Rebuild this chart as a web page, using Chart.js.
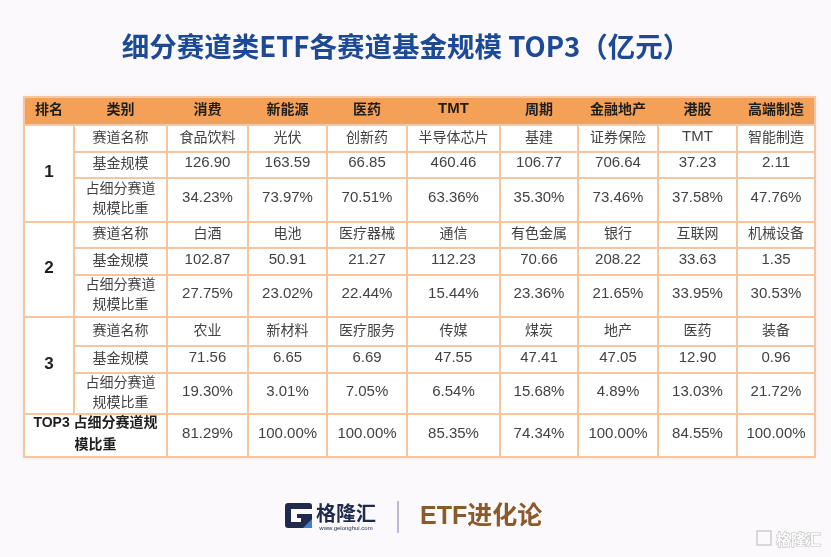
<!DOCTYPE html>
<html><head><meta charset="utf-8">
<script src="https://cdn.jsdelivr.net/npm/chart.js@4/dist/chart.umd.min.js"></script>
<style>html,body{margin:0;padding:0;background:#fbf9fb;}canvas{display:block;}</style>
</head><body>
<canvas id="c" width="831" height="557"></canvas>
<script>
// ---- data ----
const titleText = '细分赛道类ETF各赛道基金规模 TOP3（亿元）';
const categories = ['消费','新能源','医药','TMT','周期','金融地产','港股','高端制造'];
const ranks = ['1','2','3'];
const rowLabels = ['赛道名称','基金规模','占细分赛道\n规模比重'];
const trackNames1 = ['食品饮料','光伏','创新药','半导体芯片','基建','证券保险','TMT','智能制造'];
const fundScale1 = [126.90,163.59,66.85,460.46,106.77,706.64,37.23,2.11];
const share1 = [34.23,73.97,70.51,63.36,35.30,73.46,37.58,47.76];
const trackNames2 = ['白酒','电池','医疗器械','通信','有色金属','银行','互联网','机械设备'];
const fundScale2 = [102.87,50.91,21.27,112.23,70.66,208.22,33.63,1.35];
const share2 = [27.75,23.02,22.44,15.44,23.36,21.65,33.95,30.53];
const trackNames3 = ['农业','新材料','医疗服务','传媒','煤炭','地产','医药','装备'];
const fundScale3 = [71.56,6.65,6.69,47.55,47.41,47.05,12.90,0.96];
const share3 = [19.30,3.01,7.05,6.54,15.68,4.89,13.03,21.72];
const top3Share = [81.29,100.00,100.00,85.35,74.34,100.00,84.55,100.00];

// ---- layout (table units) ----
const colEdges = [0,50,143,224,303,383,476,554,634,713,791];
const rowEdges = [0,28,55,81,125,151,178,220,249,276,317,360];

const groups = [
  {rank: ranks[0], names: trackNames1, scale: fundScale1, share: share1},
  {rank: ranks[1], names: trackNames2, scale: fundScale2, share: share2},
  {rank: ranks[2], names: trackNames3, scale: fundScale3, share: share3}
];

const CJK = '"Noto Sans CJK SC", sans-serif';
const LAT = '"Liberation Sans", "Noto Sans CJK SC", sans-serif';
const isCJK = s => /[\u4e00-\u9fff]/.test(s) && !/[0-9A-Za-z]/.test(s);

const tablePlugin = {
  id: 'tablePlugin',
  beforeDraw(chart) {
    const ctx = chart.ctx;
    ctx.save();
    ctx.fillStyle = '#fbf9fb';
    ctx.fillRect(0, 0, chart.width, chart.height);
    ctx.restore();
  },
  afterDraw(chart) {
    const ctx = chart.ctx;
    const xs = chart.scales.x, ys = chart.scales.y;
    const X = v => xs.getPixelForValue(v);
    const Y = v => ys.getPixelForValue(v);
    const L = X(colEdges[0]), R = X(colEdges[colEdges.length-1]);
    const T = Y(rowEdges[0]), B = Y(rowEdges[rowEdges.length-1]);
    ctx.save();
    // title
    ctx.font = 'bold 27.5px "Noto Sans CJK SC", "Liberation Sans", sans-serif';
    ctx.fillStyle = '#1c4a96';
    ctx.textAlign = 'center'; ctx.textBaseline = 'middle';
    ctx.fillText(titleText, 406, 47);

    // shadow + white body
    ctx.shadowColor = 'rgba(0,0,0,0.08)';
    ctx.shadowBlur = 6;
    ctx.fillStyle = '#ffffff';
    ctx.fillRect(L, T, R-L, B-T);
    ctx.shadowBlur = 0; ctx.shadowColor = 'transparent';
    // header fill
    ctx.fillStyle = '#f5a057';
    ctx.fillRect(L, T, R-L, Y(rowEdges[1]) - T);

    // grid lines
    ctx.strokeStyle = '#f7c69e';
    ctx.lineWidth = 2;
    const line = (x1,y1,x2,y2) => { ctx.beginPath(); ctx.moveTo(x1,y1); ctx.lineTo(x2,y2); ctx.stroke(); };
    ctx.strokeRect(L, T, R-L, B-T);
    for (let i = 1; i < rowEdges.length-1; i++) {
      const y = Y(rowEdges[i]);
      const groupBoundary = (i === 1 || i === 4 || i === 7 || i === 10);
      line(groupBoundary ? L : X(colEdges[1]), y, R, y);
    }
    const hy = Y(rowEdges[1]);
    for (let j = 1; j < colEdges.length-1; j++) {
      const x = X(colEdges[j]);
      line(x, hy, x, j === 1 ? Y(rowEdges[10]) : B);
    }

    const text = (s, cx, cy, font, color) => {
      ctx.font = font; ctx.fillStyle = color;
      ctx.textAlign = 'center'; ctx.textBaseline = 'middle';
      ctx.fillText(s, cx, cy);
    };
    const midX = j => (X(colEdges[j]) + X(colEdges[j+1])) / 2;
    const midY = (a, b) => (Y(rowEdges[a]) + Y(rowEdges[b])) / 2 - 2;

    // header
    const hdr = ['排名','类别'].concat(categories);
    hdr.forEach((h, j) => {
      const f = isCJK(h) ? 'bold 14px ' + CJK : 'bold 15px ' + LAT;
      text(h, midX(j), midY(0,1), f, '#1e1e1e');
    });

    const bodyColor = '#424242';
    const numFont = '15px ' + LAT;
    const cjkFont = '14px ' + CJK;
    const multi = (s, cx, cy, font, color, lh) => {
      const parts = s.split('\n');
      parts.forEach((p, k) => text(p, cx, cy + (k - (parts.length-1)/2) * lh, font, color));
    };

    groups.forEach((g, gi) => {
      const r0 = 1 + gi*3;
      text(g.rank, midX(0), midY(r0, r0+3) + 1, 'bold 17px ' + LAT, '#1e1e1e');
      rowLabels.forEach((lab, k) => multi(lab, midX(1), midY(r0+k, r0+k+1), cjkFont, bodyColor, 20));
      categories.forEach((c, j) => {
        const nm = g.names[j];
        text(nm, midX(j+2), midY(r0, r0+1), isCJK(nm) ? cjkFont : numFont, bodyColor);
        text(g.scale[j].toFixed(2), midX(j+2), midY(r0+1, r0+2), numFont, bodyColor);
        text(g.share[j].toFixed(2) + '%', midX(j+2), midY(r0+2, r0+3), numFont, bodyColor);
      });
    });
    const tx = (X(colEdges[0]) + X(colEdges[2])) / 2;
    const ty = midY(10, 11);
    text('TOP3 占细分赛道规', tx, ty - 10, 'bold 14px ' + LAT, '#1e1e1e');
    text('模比重', tx, ty + 10, 'bold 14px ' + CJK, '#1e1e1e');
    categories.forEach((c, j) => {
      text(top3Share[j].toFixed(2) + '%', midX(j+2), ty, numFont, bodyColor);
    });

    // footer brand
    ctx.fillStyle = '#1f2a4d';
    ctx.beginPath();
    ctx.roundRect(285, 503, 27, 25, 3);
    ctx.fill();
    ctx.fillStyle = '#fbf9fb';
    ctx.fillRect(291, 509, 21, 5);
    ctx.fillRect(291, 509, 6, 13);
    ctx.fillRect(291, 518, 10, 4);
    ctx.fillStyle = '#3f7fd0';
    ctx.beginPath();
    ctx.moveTo(303, 528); ctx.lineTo(312, 519); ctx.lineTo(312, 528); ctx.closePath();
    ctx.fill();
    text('格隆汇', 346, 513, 'bold 20px ' + CJK, '#1f2a4d');
    text('www.gelonghui.com', 346, 528, '6px ' + LAT, '#1f2a4d');
    ctx.strokeStyle = '#a9a3c4'; ctx.lineWidth = 1.5;
    line(398, 501, 398, 533);
    ctx.font = 'bold 25px ' + LAT;
    ctx.fillStyle = '#8a5a2c'; ctx.textAlign = 'left'; ctx.textBaseline = 'middle';
    ctx.fillText('ETF进化论', 420, 517);
    // watermark
    ctx.font = 'bold 15px ' + CJK;
    ctx.lineWidth = 1.2; ctx.strokeStyle = 'rgba(150,150,150,0.55)';
    ctx.fillStyle = 'rgba(255,255,255,0.9)';
    ctx.strokeRect(757, 531, 14, 14);
    ctx.strokeText('格隆汇', 776, 539);
    ctx.fillText('格隆汇', 776, 539);
    ctx.restore();
  }
};

new Chart(document.getElementById('c'), {
  type: 'bar',
  data: { labels: [], datasets: [] },
  options: {
    responsive: false,
    animation: false,
    layout: { padding: { left: 24, right: 16, top: 97, bottom: 100 } },
    plugins: {
      legend: { display: false },
      tooltip: { enabled: false },
      title: { display: false }
    },
    scales: {
      x: { type: 'linear', min: 0, max: 791, display: false, offset: false, grid: { offset: false } },
      y: { type: 'linear', min: 0, max: 360, reverse: true, display: false, offset: false }
    }
  },
  plugins: [tablePlugin]
});
</script>
</body></html>
